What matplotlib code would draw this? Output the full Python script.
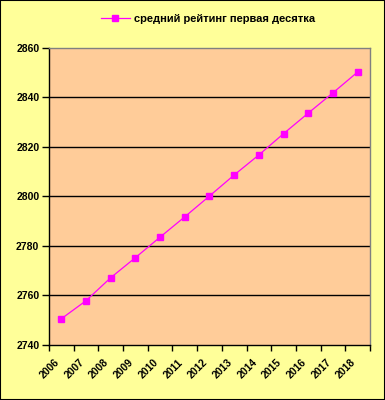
import numpy as np
import matplotlib.pyplot as plt
import matplotlib.transforms as mtransforms
from matplotlib.lines import Line2D
from matplotlib.patches import Rectangle

# average rating of the top ten, by year
years = ['2006', '2007', '2008', '2009', '2010', '2011', '2012',
         '2013', '2014', '2015', '2016', '2017', '2018']
rating = [2750.6, 2757.9, 2767.2, 2775.3, 2783.6, 2791.8, 2800.2,
          2808.7, 2816.8, 2825.4, 2833.7, 2841.9, 2850.3]
yticks = [2740, 2760, 2780, 2800, 2820, 2840, 2860]
legendLabel = 'средний рейтинг первая десятка'

plt.rcParams['font.family'] = ['Liberation Sans', 'DejaVu Sans']

fig = plt.figure(figsize=(3.85, 4.0), dpi=100, facecolor='#FFFF99')
ax = fig.add_axes([49/385, 55/400, 321/385, 297/400])
ax.set_facecolor('#FFCC99')

x = np.arange(len(years))
ax.plot(x, rating, color='#FF00FF', linewidth=0.9, marker='s',
        markersize=4.5, markerfacecolor='#FF00FF', markeredgecolor='#FF00FF')

ax.set_xlim(-0.5, len(years) - 0.5)
ax.set_ylim(yticks[0], yticks[-1])
ax.set_yticks(yticks)
ax.set_yticklabels([str(v) for v in yticks], fontsize=7.5, fontweight='bold')
for v in yticks[1:-1]:
  ax.axhline(v, color='black', linewidth=1.0, zorder=1)

# tick marks between categories, labels at category centres
ax.set_xticks(np.arange(-0.5, len(years), 1.0))
ax.set_xticklabels([])
ax.set_xticks(x, minor=True)
ax.set_xticklabels(years, minor=True, fontsize=7.5, fontweight='bold',
                   rotation=45, ha='right', va='top', rotation_mode='anchor')
ax.tick_params(axis='x', which='major', length=4, width=1, color='black', direction='out')
ax.tick_params(axis='x', which='minor', length=0, pad=6)
ax.tick_params(axis='y', length=5, width=1, color='black', pad=2)

# nudge the rotated year labels a bit left and down, like the original
shift = mtransforms.ScaledTranslation(-7/100, -4/100, fig.dpi_scale_trans)
for lab in ax.get_xticklabels(minor=True):
  lab.set_transform(lab.get_transform() + shift)

ax.spines['left'].set_color('black')
ax.spines['bottom'].set_color('black')
ax.spines['top'].set_color('#808080')
ax.spines['right'].set_color('#808080')
for s in ax.spines.values():
  s.set_linewidth(1.0)

handle = Line2D([], [], color='#FF00FF', linewidth=0.9, marker='s', markersize=4.5,
                markerfacecolor='#FF00FF', markeredgecolor='#FF00FF')
fig.legend([handle], [legendLabel], loc='center', bbox_to_anchor=(0.54, 0.952),
           frameon=False, prop={'size': 8, 'weight': 'bold'}, handlelength=2.6,
           handletextpad=0.4)

fig.patches.append(Rectangle((0, 0), 1, 1, transform=fig.transFigure, fill=False,
                             edgecolor='black', linewidth=1.5))

fig.savefig('out.png', dpi=100, facecolor=fig.get_facecolor())
